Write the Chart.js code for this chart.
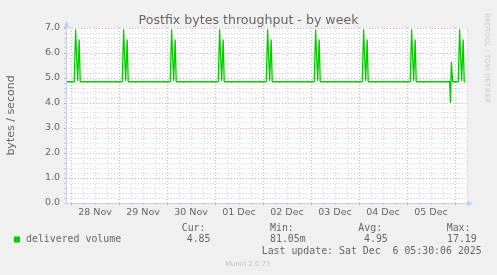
<!DOCTYPE html>
<html>
<head>
<meta charset="utf-8">
<script src="https://cdn.jsdelivr.net/npm/chart.js@4.4.1/dist/chart.umd.min.js"></script>
<style>
  html, body { margin: 0; padding: 0; background: #f0f0f0; }
  canvas { display: block; }
</style>
</head>
<body>
<canvas id="myChart" width="497" height="275"></canvas>
<script>
// x values: hours since 28 Nov 00:00
const hours = [
  -2.5,
  1.6, 2.3, 3.3, 4.1, 4.6,
  25.6, 26.3, 27.3, 28.1, 28.6,
  49.6, 50.3, 51.3, 52.1, 52.6,
  73.6, 74.3, 75.3, 76.1, 76.6,
  97.6, 98.3, 99.3, 100.1, 100.6,
  121.6, 122.3, 123.3, 124.1, 124.6,
  145.6, 146.3, 147.3, 148.1, 148.6,
  169.6, 170.3, 171.3, 172.1, 172.6,
  189.3, 189.7, 190.2, 190.8,
  193.6, 194.3, 195.3, 196.1, 196.6, 197.1
];
const volume = [
  4.85,
  4.85, 6.92, 4.9, 6.52, 4.85,
  4.85, 6.92, 4.9, 6.52, 4.85,
  4.85, 6.92, 4.9, 6.52, 4.85,
  4.85, 6.92, 4.9, 6.52, 4.85,
  4.85, 6.92, 4.9, 6.52, 4.85,
  4.85, 6.92, 4.9, 6.52, 4.85,
  4.85, 6.92, 4.9, 6.52, 4.85,
  4.85, 6.92, 4.9, 6.52, 4.85,
  4.85, 4.03, 5.63, 4.85,
  4.85, 6.92, 4.9, 6.52, 4.85, 4.85
];
const dayLabels = ['28 Nov', '29 Nov', '30 Nov', '01 Dec', '02 Dec', '03 Dec', '04 Dec', '05 Dec'];
const dayLabelHours = [12, 36, 60, 84, 108, 132, 156, 180];
const xMin = -2.5, xMax = 198;
const yMin = 0, yMax = 7;

const legendHeads = ['Cur:', 'Min:', 'Avg:', 'Max:'];
const legendValues = ['4.85', '81.05m', '4.95', '17.19'];
const seriesName = 'delivered volume';
const lastUpdate = 'Last update: Sat Dec  6 05:30:06 2025';

const FONT = '"DejaVu Sans", "Liberation Sans", sans-serif';
const MONO = '"DejaVu Sans Mono", "Liberation Mono", monospace';
const TEXT = '#666666';
const GREEN = '#00cc00';
const MAJOR = 'rgba(225, 90, 90, 0.55)';
const MINOR = 'rgba(150, 150, 150, 0.4)';
const AXIS = '#c6cdf5';

const gridHours = [];
for (let h = 0; h <= xMax; h += 6) gridHours.push(h);
const gridY = [];
for (let i = 0; i <= 35; i++) gridY.push(i / 5);

const munin = {
  id: 'munin',
  beforeDraw(chart) {
    const { ctx, chartArea: a } = chart;
    ctx.save();
    ctx.fillStyle = '#f0f0f0';
    ctx.fillRect(0, 0, chart.width, chart.height);
    ctx.fillStyle = '#ffffff';
    ctx.fillRect(a.left, a.top, a.right - a.left, a.bottom - a.top);
    ctx.restore();
  },
  afterDraw(chart) {
    const { ctx, chartArea: a } = chart;
    ctx.save();
    // axes with arrows
    ctx.strokeStyle = AXIS;
    ctx.fillStyle = AXIS;
    ctx.lineWidth = 1;
    ctx.beginPath();
    ctx.moveTo(a.left + 0.5, a.bottom + 2);
    ctx.lineTo(a.left + 0.5, a.top);
    ctx.moveTo(a.left - 2, a.bottom + 0.5);
    ctx.lineTo(a.right, a.bottom + 0.5);
    ctx.stroke();
    ctx.beginPath();
    ctx.moveTo(a.left - 2.5, a.top);
    ctx.lineTo(a.left + 3.5, a.top);
    ctx.lineTo(a.left + 0.5, a.top - 7);
    ctx.closePath();
    ctx.fill();
    ctx.beginPath();
    ctx.moveTo(a.right, a.bottom - 2.5);
    ctx.lineTo(a.right, a.bottom + 3.5);
    ctx.lineTo(a.right + 6, a.bottom + 0.5);
    ctx.closePath();
    ctx.fill();

    // title
    ctx.fillStyle = TEXT;
    ctx.font = '12.6px ' + FONT;
    ctx.textAlign = 'center';
    ctx.textBaseline = 'alphabetic';
    ctx.fillText('Postfix bytes throughput - by week', 248.5, 23.5);

    // unit label
    ctx.save();
    ctx.translate(11, (a.top + a.bottom) / 2);
    ctx.rotate(-Math.PI / 2);
    ctx.font = '11px ' + FONT;
    ctx.textBaseline = 'middle';
    ctx.fillText('bytes / second', 0, 0);
    ctx.restore();

    // legend
    ctx.font = '9.9px ' + MONO;
    ctx.textAlign = 'left';
    ctx.textBaseline = 'middle';
    const headX = [181.7, 270, 358.3, 446.7];
    const valX = [186.7, 270, 364, 447];
    legendHeads.forEach((t, i) => ctx.fillText(t, headX[i], 228.5));
    ctx.fillStyle = GREEN;
    ctx.fillRect(14, 236.5, 6, 6);
    ctx.fillStyle = TEXT;
    ctx.fillText(seriesName, 26, 239.5);
    legendValues.forEach((t, i) => ctx.fillText(t, valX[i], 239.5));
    ctx.fillText(lastUpdate, 261.7, 251);

    // watermarks
    ctx.fillStyle = '#c4c4c4';
    ctx.font = '6.9px ' + FONT;
    ctx.textAlign = 'center';
    ctx.fillText('Munin 2.0.73', 247.7, 264.5);
    ctx.save();
    ctx.translate(487, 58);
    ctx.rotate(Math.PI / 2);
    ctx.fillStyle = '#cccccc';
    ctx.font = '7px ' + FONT;
    ctx.fillText('RRDTOOL / TOBI OETIKER', 0, 0);
    ctx.restore();
    ctx.restore();
  }
};

const ctx = document.getElementById('myChart').getContext('2d');
new Chart(ctx, {
  type: 'line',
  data: {
    datasets: [{
      label: seriesName,
      data: hours.map((h, i) => ({ x: h, y: volume[i] })),
      borderColor: GREEN,
      borderWidth: 1.3,
      borderJoinStyle: 'round',
      pointRadius: 0,
      tension: 0,
      fill: false
    }]
  },
  options: {
    responsive: false,
    animation: false,
    devicePixelRatio: 1,
    layout: { padding: { top: 28, right: 30, left: 0, bottom: 0 } },
    plugins: { legend: { display: false }, tooltip: { enabled: false } },
    scales: {
      x: {
        type: 'linear',
        min: xMin,
        max: xMax,
        afterBuildTicks: s => { s.ticks = gridHours.map(v => ({ value: v })); },
        afterFit: s => { s.height = 72; },
        ticks: {
          autoSkip: false,
          maxRotation: 0,
          padding: 2,
          color: TEXT,
          font: { family: FONT, size: 9.5 },
          callback: v => {
            const i = dayLabelHours.indexOf(v);
            return i >= 0 ? dayLabels[i] : '';
          }
        },
        grid: {
          color: c => (c.tick && c.tick.value % 24 === 0) ? MAJOR : MINOR,
          tickLength: 2,
          lineWidth: 1
        },
        border: { display: false, dash: [1, 2] }
      },
      y: {
        min: yMin,
        max: yMax,
        afterBuildTicks: s => { s.ticks = gridY.map(v => ({ value: v })); },
        afterFit: s => { s.width = 66; },
        ticks: {
          autoSkip: false,
          padding: 4,
          color: TEXT,
          font: { family: FONT, size: 9.5 },
          callback: v => Math.abs(v - Math.round(v)) < 1e-6 ? v.toFixed(1) : ''
        },
        grid: {
          color: c => (c.tick && Math.abs(c.tick.value - Math.round(c.tick.value)) < 1e-6) ? MAJOR : MINOR,
          tickLength: 2,
          lineWidth: 1
        },
        border: { display: false, dash: [1, 2] }
      }
    }
  },
  plugins: [munin]
});
</script>
</body>
</html>
